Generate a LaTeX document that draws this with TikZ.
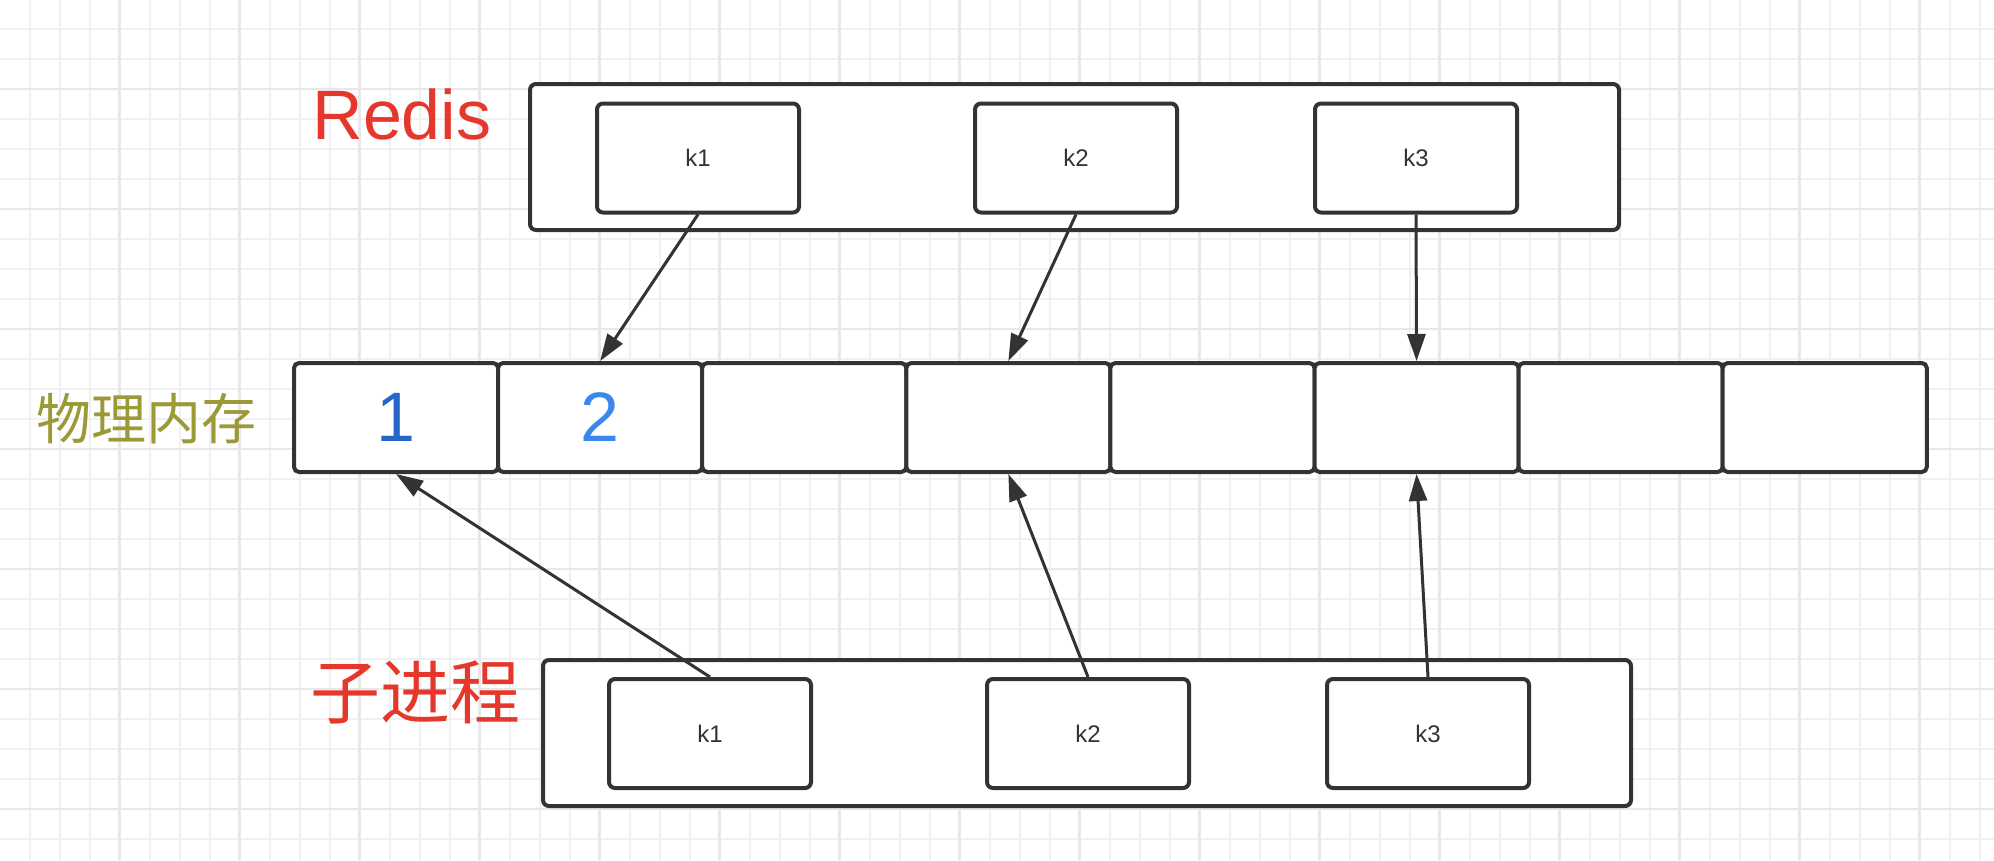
\documentclass[tikz,border=0pt]{standalone}
\usepackage{fontspec}
\setmainfont{Liberation Sans}
\newfontfamily\cjk{Noto Sans CJK SC}
\usetikzlibrary{arrows.meta}
\definecolor{edge}{HTML}{333333}
\definecolor{gridminor}{HTML}{F1F1F1}
\definecolor{gridmajor}{HTML}{E8E8E8}
\definecolor{redisred}{HTML}{E5372B}
\definecolor{olivetext}{HTML}{9B9A37}
\definecolor{blueA}{HTML}{2567C9}
\definecolor{blueB}{HTML}{3A87EE}
\begin{document}
\begin{tikzpicture}[x=1pt,y=-1pt,
  box/.style={draw=edge, fill=white, line width=4pt, rounded corners=6pt, inner sep=0pt},
  keybox/.style={box, minimum width=202pt, minimum height=109pt, font=\fontsize{24}{24}\selectfont, text=edge},
  outerbox/.style={box, minimum width=1088pt, minimum height=146pt},
  cell/.style={box, minimum width=204.1pt, minimum height=109pt, rounded corners=5pt, font=\fontsize{70}{70}\selectfont},
  link/.style={draw=edge, line width=3pt, -{Triangle[length=27pt,width=18pt]}},
  lbl/.style={anchor=base, inner sep=0pt},
]
\useasboundingbox (0,0) rectangle (1994,860);
\fill[white] (0,0) rectangle (1994,860);
% grid
\foreach \gx in {29.5,59.5,...,1994} \draw[gridminor, line width=2pt] (\gx,0) -- (\gx,860);
\foreach \gy in {29,59,...,860} \draw[gridminor, line width=2pt] (0,\gy) -- (1994,\gy);
\foreach \gx in {119.5,239.5,...,1994} \draw[gridmajor, line width=2.5pt] (\gx,0) -- (\gx,860);
\foreach \gy in {89,209,...,860} \draw[gridmajor, line width=2.5pt] (0,\gy) -- (1994,\gy);

% labels
\node[lbl, text=redisred, font=\fontsize{70}{70}\selectfont] (lredis) at (402,139) {Redis};
\node[lbl, text=olivetext, font=\cjk\fontsize{55}{55}\selectfont] (lmem) at (146,439) {物理内存};
\node[lbl, text=redisred, font=\cjk\fontsize{70}{70}\selectfont] (lchild) at (415,718) {子进程};

% Redis process
\node[outerbox, minimum width=1089pt] (redis) at (1074.5,157) {};
\node[keybox] (rk1) at (698,158) {k1};
\node[keybox] (rk2) at (1076,158) {k2};
\node[keybox] (rk3) at (1416,158) {k3};

% child process
\node[outerbox] (child) at (1087,733) {};
\node[keybox] (ck1) at (710,733.5) {k1};
\node[keybox] (ck2) at (1088,733.5) {k2};
\node[keybox] (ck3) at (1428,733.5) {k3};

% physical memory cells
\node[cell, text=blueA] (m1) at (396.05,417.5) {1};
\node[cell, text=blueB] (m2) at (600.15,417.5) {2};
\node[cell] (m3) at (804.25,417.5) {};
\node[cell] (m4) at (1008.35,417.5) {};
\node[cell] (m5) at (1212.45,417.5) {};
\node[cell] (m6) at (1416.55,417.5) {};
\node[cell] (m7) at (1620.65,417.5) {};
\node[cell] (m8) at (1824.75,417.5) {};

% connectors
\draw[link] (rk1.south) -- (m2.north);
\draw[link] (rk2.south) -- (m4.north);
\draw[link] (rk3.south) -- (m6.north);
\draw[link] (ck1.north) -- (m1.south);
\draw[link] (ck2.north) -- (m4.south);
\draw[link] (ck3.north) -- (m6.south);
\end{tikzpicture}
\end{document}
